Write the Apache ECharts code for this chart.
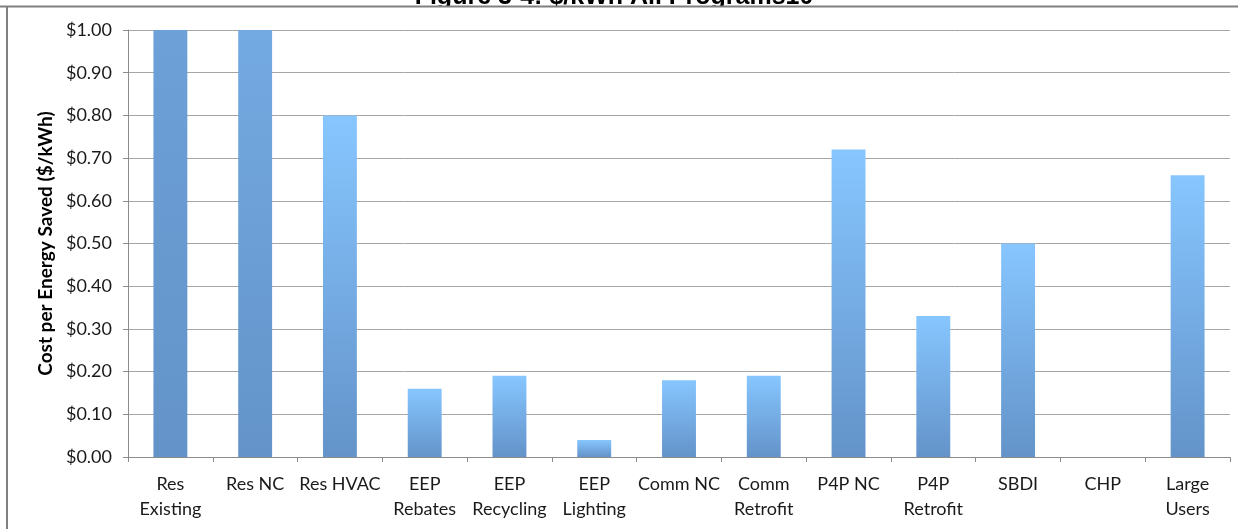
<!DOCTYPE html>
<html>
<head>
<meta charset="utf-8">
<script src="https://cdn.jsdelivr.net/npm/echarts@6/dist/echarts.min.js"></script>
<style>html,body{margin:0;padding:0;background:#fff;}#c{width:1249px;height:529px;}</style>
</head>
<body>
<div id="c"></div>
<script>
const titleText = 'Figure 3-4: $/kWh All Programs10';
const categories = ['Res\nExisting', 'Res NC', 'Res HVAC', 'EEP\nRebates', 'EEP\nRecycling', 'EEP\nLighting', 'Comm NC', 'Comm\nRetrofit', 'P4P NC', 'P4P\nRetrofit', 'SBDI', 'CHP', 'Large\nUsers'];
// first two bars run off the top of the $1.00 axis; their heights are estimated from the gradient
const costPerKWh = [3.8, 2.2, 0.80, 0.16, 0.19, 0.04, 0.18, 0.19, 0.72, 0.33, 0.50, 0, 0.66];
const yTicks = [0, 0.1, 0.2, 0.3, 0.4, 0.5, 0.6, 0.7, 0.8, 0.9, 1.0];

const FONT = 'Lato';
const chart = echarts.init(document.getElementById('c'), null, {renderer: 'canvas'});

function gradientFor(v) {
  const yTop = chart.convertToPixel({yAxisIndex: 0}, v);
  const yBot = chart.convertToPixel({yAxisIndex: 0}, 0);
  return new echarts.graphic.LinearGradient(0, yTop, 0, yBot, [
    {offset: 0, color: '#87C6FF'},
    {offset: 1, color: '#6393C9'}
  ], true);
}

const option = {
  animation: false,
  backgroundColor: '#fff',
  grid: {left: 128, right: 19, top: 30, bottom: 72, containLabel: false},
  graphic: [
    {type: 'text', x: 614, y: 9.5, z: 1, style: {
      text: titleText, align: 'center', verticalAlign: 'bottom',
      font: 'bold 25px "Liberation Sans", Arial, sans-serif', fill: '#000'}},
    {type: 'rect', z: 2, shape: {x: 0, y: 7, width: 1249, height: 8}, style: {fill: '#fff'}},
    {type: 'line', z: 3, shape: {x1: 0, y1: 6.5, x2: 1238, y2: 6.5}, style: {stroke: '#808080', lineWidth: 2}},
    {type: 'line', z: 3, shape: {x1: 7, y1: 6.5, x2: 7, y2: 529}, style: {stroke: '#808080', lineWidth: 2}}
  ],
  xAxis: {
    type: 'category',
    data: categories,
    boundaryGap: true,
    axisLine: {show: true, lineStyle: {color: '#8C8C8C', width: 1}},
    axisTick: {show: true, alignWithLabel: false, length: 5, inside: false, lineStyle: {color: '#8C8C8C'}},
    axisLabel: {interval: 0, margin: 15, fontFamily: FONT, fontSize: 18, color: '#1a1a1a', lineHeight: 25}
  },
  yAxis: {
    type: 'value',
    min: 0, max: 1, interval: 0.1,
    name: 'Cost per Energy Saved ($/kWh)',
    nameLocation: 'middle',
    nameGap: 72,
    nameRotate: 90,
    nameTextStyle: {fontFamily: FONT, fontWeight: 'bold', fontSize: 19, color: '#000'},
    axisLine: {show: true, lineStyle: {color: '#8C8C8C', width: 1}},
    axisTick: {show: true, length: 5, lineStyle: {color: '#8C8C8C'}},
    splitLine: {show: true, lineStyle: {color: '#A6A6A6', width: 1}},
    axisLabel: {margin: 16, fontFamily: FONT, fontSize: 18, color: '#1a1a1a',
      formatter: function (v) { return '$' + v.toFixed(2); }}
  },
  series: [{
    type: 'bar',
    data: costPerKWh,
    barWidth: '40%',
    clip: true,
    itemStyle: {color: '#6FA6DC', shadowBlur: 4, shadowColor: 'rgba(0,0,0,0.25)', shadowOffsetX: 0, shadowOffsetY: 0}
  }]
};
chart.setOption(option);
chart.setOption({
  series: [{
    data: costPerKWh.map(v => ({value: v, itemStyle: {color: gradientFor(v)}}))
  }]
});
</script>
</body>
</html>
